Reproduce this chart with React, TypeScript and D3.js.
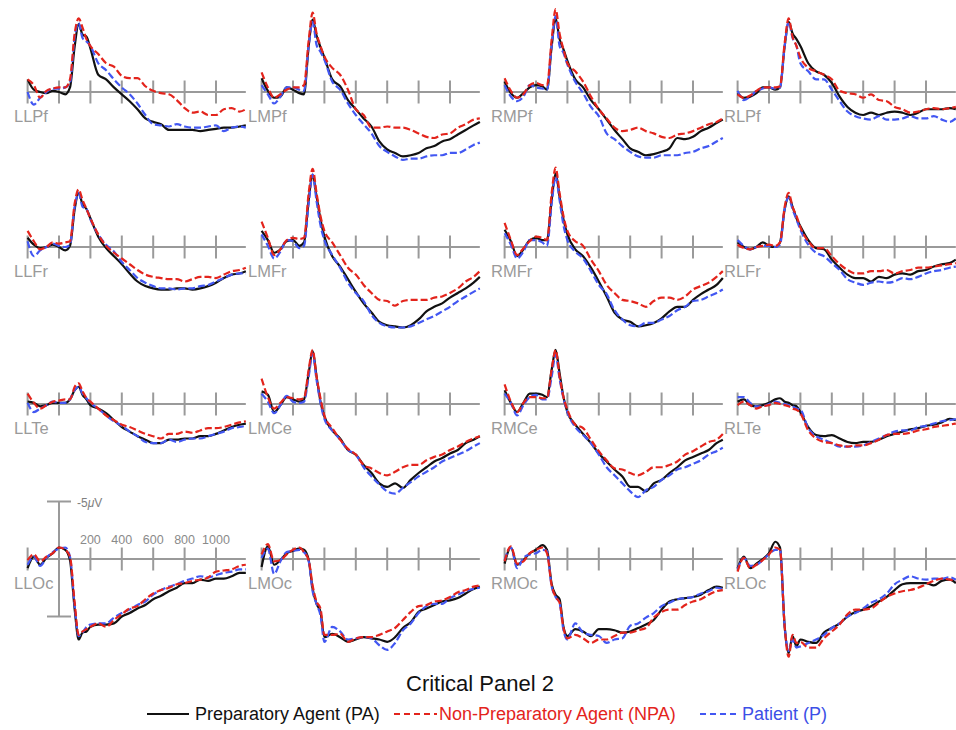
import * as d3 from 'd3';

// sample times (ms) shared by every waveform
const TIMES = [-200, -160, -120, -80, -40, 0, 40, 70, 100, 125, 150, 175, 200, 250, 300, 350, 400, 450, 500, 550, 600, 650, 700, 750, 800, 850, 900, 950, 1000, 1050, 1100, 1150, 1190];
const X_TICKS = [-200, 0, 200, 400, 600, 800, 1000];
const X_TICK_LABELS = [200, 400, 600, 800, 1000];
const EPOCH = [-200, 1190];

// amplitudes in microvolts, negative plotted up
const LLPf_PA = [-1.1, -0.2, 0.0, 0.1, -0.1, 0.0, 0.2, -0.4, -4.0, -5.9, -5.0, -4.8, -3.8, -1.5, -1.1, -0.4, 0.2, 0.8, 1.5, 2.3, 2.6, 2.8, 3.3, 3.3, 3.3, 3.3, 3.4, 3.3, 3.2, 3.1, 3.1, 3.0, 2.9];
const LLPf_NPA = [-1.1, -0.6, 0.5, -0.1, -0.3, -0.4, -0.4, -1.1, -5.1, -6.4, -5.6, -4.6, -4.0, -3.3, -2.5, -2.2, -1.4, -1.2, -1.2, -0.5, -0.1, 0.1, 0.2, 0.7, 1.4, 1.8, 1.7, 2.0, 2.0, 1.5, 1.4, 1.7, 1.5];
const LLPf_P = [0.0, 1.1, 0.5, 0.0, -0.3, -0.3, -0.4, -0.8, -4.8, -6.0, -4.7, -4.4, -4.0, -2.5, -1.9, -1.1, -0.4, 0.2, 1.0, 2.0, 2.8, 2.9, 3.0, 2.8, 3.0, 3.1, 3.1, 3.0, 2.9, 3.4, 3.1, 3.0, 3.1];

const LMPf_PA = [-1.2, -0.1, 0.5, 0.4, -0.4, -0.2, 0.1, 0.2, -4.0, -6.3, -4.9, -3.9, -3.0, -1.1, -0.5, 0.7, 1.5, 2.3, 3.0, 4.3, 5.0, 5.3, 5.6, 5.5, 5.3, 4.9, 4.7, 4.3, 4.1, 3.7, 3.3, 2.9, 2.6];
const LMPf_NPA = [-1.7, -0.4, 0.5, 0.2, -0.2, -0.4, -0.4, -0.6, -4.5, -6.9, -5.1, -4.0, -3.1, -2.1, -1.5, -0.2, 1.5, 2.0, 3.1, 3.1, 3.0, 3.1, 3.1, 3.3, 3.6, 3.9, 4.0, 3.7, 3.6, 3.1, 2.8, 2.4, 2.3];
const LMPf_P = [-0.6, 0.2, 1.0, 0.4, -0.4, -0.4, -0.2, -0.1, -4.0, -6.1, -4.1, -3.5, -2.8, -0.9, -0.2, 1.0, 2.0, 2.8, 3.6, 4.7, 5.2, 5.6, 5.9, 5.8, 5.8, 5.6, 5.5, 5.5, 5.3, 5.3, 5.0, 4.6, 4.4];

const RMPf_PA = [-0.9, 0.1, 0.5, 0.1, -0.4, -0.6, -0.5, -0.2, -4.0, -6.4, -4.6, -3.7, -2.7, -1.1, -0.4, 0.7, 1.5, 2.4, 3.3, 4.1, 4.9, 5.2, 5.5, 5.4, 5.2, 4.9, 4.0, 4.1, 3.9, 3.4, 3.1, 2.7, 2.4];
const RMPf_NPA = [-1.2, -0.1, 0.5, 0.2, -0.6, -0.8, -0.6, -0.6, -4.6, -7.2, -5.1, -3.7, -2.5, -1.8, -0.9, 0.4, 1.5, 2.3, 3.1, 3.4, 3.3, 3.1, 3.4, 3.6, 3.9, 4.0, 3.7, 3.6, 3.4, 3.1, 2.8, 2.6, 2.3];
const RMPf_P = [-0.6, 0.4, 0.8, 0.4, -0.6, -0.4, -0.3, -0.2, -4.0, -6.6, -4.0, -3.4, -2.4, -0.9, 0.1, 1.3, 2.1, 3.6, 4.1, 4.7, 5.2, 5.6, 5.7, 5.7, 5.5, 5.5, 5.5, 5.3, 5.2, 4.9, 4.7, 4.3, 4.0];

const RLPf_PA = [0.1, 0.5, 0.4, 0.1, -0.4, -0.4, -0.2, -0.4, -4.0, -6.1, -5.1, -4.6, -4.0, -2.5, -1.8, -1.5, -0.8, 0.4, 1.3, 1.8, 2.0, 1.8, 2.0, 1.8, 1.7, 1.8, 2.0, 1.8, 1.5, 1.5, 1.5, 1.4, 1.5];
const RLPf_NPA = [0.2, 0.5, 0.3, -0.1, -0.4, -0.4, -0.4, -0.5, -4.3, -6.4, -4.8, -4.0, -3.0, -2.1, -1.8, -1.5, -1.1, -0.1, 0.1, 0.2, 0.5, 0.2, 0.7, 0.8, 1.3, 1.5, 1.8, 1.7, 1.5, 1.4, 1.5, 1.4, 1.3];
const RLPf_P = [-0.1, 0.7, 0.4, -0.1, -0.3, -0.4, -0.3, -0.4, -4.0, -6.1, -4.7, -4.0, -2.5, -1.8, -1.1, -1.1, -0.2, 0.8, 1.7, 2.1, 2.3, 2.4, 2.1, 2.4, 2.4, 2.3, 2.1, 2.3, 2.3, 2.1, 2.4, 2.6, 2.3];

const LLFr_PA = [-0.8, -0.2, 0.1, 0.0, -0.2, 0.0, 0.3, -0.1, -3.3, -4.7, -3.7, -3.3, -2.5, -0.9, 0.1, 0.8, 1.5, 2.3, 3.0, 3.4, 3.6, 3.7, 3.7, 3.6, 3.6, 3.7, 3.6, 3.4, 3.1, 2.7, 2.4, 2.3, 2.1];
const LLFr_NPA = [-1.4, -0.5, 0.2, 0.0, -0.4, -0.3, -0.4, -0.5, -3.8, -5.0, -4.1, -3.3, -2.5, -1.1, -0.1, 0.5, 1.0, 1.5, 2.0, 2.4, 2.6, 2.7, 2.8, 2.8, 3.0, 2.8, 2.6, 2.6, 2.7, 2.4, 2.1, 2.0, 1.8];
const LLFr_P = [-0.5, 0.8, 0.3, 0.0, -0.3, -0.1, 0.0, -0.2, -3.5, -4.7, -3.5, -3.3, -2.4, -1.1, -0.2, 0.4, 1.3, 2.0, 2.7, 3.1, 3.4, 3.6, 3.6, 3.7, 3.6, 3.6, 3.4, 3.3, 3.0, 2.7, 2.4, 2.3, 2.3];

const LMFr_PA = [-1.4, -0.6, 0.5, 0.2, -0.5, -0.6, -0.1, -0.4, -4.1, -6.3, -4.4, -2.4, -0.9, 0.8, 1.7, 2.8, 3.9, 4.9, 5.7, 6.5, 6.8, 6.9, 7.0, 6.8, 6.3, 5.6, 5.2, 4.9, 4.4, 4.0, 3.6, 3.1, 2.6];
const LMFr_NPA = [-2.2, -0.8, 0.7, 0.2, -0.6, -0.8, -0.7, -0.8, -4.7, -6.8, -4.7, -2.7, -1.4, -0.4, 0.7, 1.8, 2.4, 3.3, 4.0, 4.6, 4.7, 5.1, 4.7, 4.6, 4.6, 4.6, 4.4, 4.3, 4.0, 3.6, 3.0, 2.6, 2.1];
const LMFr_P = [-1.1, -0.1, 1.0, 0.4, -0.6, -0.5, 0.1, -0.1, -3.8, -6.3, -4.0, -1.9, -0.6, 0.7, 1.8, 3.1, 4.0, 4.7, 5.9, 6.6, 6.9, 7.0, 7.0, 6.9, 6.6, 6.3, 6.0, 5.6, 5.2, 4.7, 4.3, 3.9, 3.6];

const RMFr_PA = [-1.5, -0.5, 0.8, 0.2, -0.6, -0.8, -0.6, -0.6, -4.1, -6.4, -4.4, -2.4, -1.1, 0.2, 0.8, 1.8, 3.0, 4.3, 5.7, 6.3, 6.5, 6.9, 6.8, 6.6, 6.2, 5.6, 5.2, 5.2, 4.6, 4.1, 3.7, 3.3, 2.7];
const RMFr_NPA = [-2.1, -0.6, 0.7, 0.1, -0.5, -0.9, -0.8, -0.6, -4.7, -6.9, -4.7, -2.7, -1.4, -0.5, -0.1, 1.1, 2.1, 3.3, 4.0, 4.6, 4.7, 4.9, 5.2, 4.7, 4.4, 4.4, 4.6, 4.3, 3.7, 3.4, 3.1, 2.6, 2.1];
const RMFr_P = [-1.2, -0.2, 1.0, 0.4, -0.6, -0.6, -0.4, -0.1, -3.8, -6.1, -4.1, -1.9, -0.6, 0.4, 1.0, 2.1, 3.3, 4.1, 5.5, 6.3, 6.8, 6.9, 6.6, 6.6, 6.3, 6.0, 5.5, 5.2, 4.7, 4.6, 4.3, 4.0, 3.7];

const RLFr_PA = [-0.4, 0.0, 0.2, 0.0, -0.4, -0.1, 0.0, -0.4, -3.3, -4.4, -3.5, -2.5, -1.8, -0.6, 0.1, 0.2, 1.1, 1.8, 2.4, 2.7, 2.7, 3.0, 2.6, 2.7, 2.4, 2.3, 2.4, 2.1, 2.0, 1.7, 1.5, 1.4, 1.1];
const RLFr_NPA = [-0.2, 0.1, 0.2, 0.0, -0.1, -0.2, -0.1, -0.4, -3.5, -4.7, -3.5, -2.7, -1.7, -0.5, 0.1, 0.1, 0.8, 1.5, 2.0, 2.3, 2.3, 2.1, 2.1, 2.0, 2.3, 2.1, 2.0, 1.8, 1.8, 1.7, 1.6, 1.5, 1.4];
const RLFr_P = [-0.6, -0.1, 0.2, 0.0, -0.1, -0.1, 0.0, -0.2, -3.3, -4.3, -3.3, -2.4, -1.5, -0.2, 0.5, 0.8, 1.4, 2.0, 2.8, 3.1, 3.3, 3.1, 3.0, 3.1, 3.0, 2.7, 2.8, 2.6, 2.3, 2.1, 2.0, 1.8, 1.7];

const LLTe_PA = [-0.2, -0.1, 0.2, 0.1, -0.1, -0.1, -0.1, -0.4, -1.2, -1.5, -0.8, -0.4, 0.1, 0.4, 0.8, 1.4, 2.0, 2.4, 2.8, 3.1, 3.4, 3.4, 3.1, 3.1, 3.0, 3.0, 2.8, 2.8, 2.6, 2.3, 2.0, 1.8, 1.7];
const LLTe_NPA = [-0.9, -0.1, 0.4, 0.1, -0.2, -0.3, -0.4, -0.4, -1.5, -1.8, -1.1, -0.5, -0.2, 0.4, 1.0, 1.4, 1.8, 2.0, 2.3, 2.6, 2.8, 3.0, 2.6, 2.6, 2.4, 2.5, 2.3, 2.1, 2.1, 2.0, 1.8, 1.6, 1.5];
const LLTe_P = [-0.1, 0.7, 0.4, 0.1, -0.2, -0.1, -0.1, -0.4, -1.2, -1.5, -0.9, -0.5, -0.1, 0.4, 1.0, 1.5, 1.9, 2.4, 2.8, 3.3, 3.4, 3.4, 3.1, 3.3, 3.1, 3.0, 3.0, 2.8, 2.6, 2.4, 2.1, 2.0, 1.9];

const LMCe_PA = [-1.1, -0.8, 0.7, 0.1, -0.6, -0.4, -0.2, -0.4, -2.7, -4.6, -2.4, -0.2, 1.1, 2.3, 3.0, 4.0, 4.4, 5.3, 6.0, 6.9, 7.2, 6.9, 7.3, 6.6, 6.0, 5.5, 5.0, 4.7, 4.3, 4.0, 3.4, 3.1, 2.8];
const LMCe_NPA = [-2.2, -0.6, 0.4, -0.1, -0.6, -0.5, -0.4, -0.5, -3.0, -4.7, -2.4, -0.5, 1.0, 2.1, 3.1, 3.9, 4.4, 5.3, 5.6, 6.0, 6.2, 5.9, 5.5, 5.3, 5.3, 4.9, 4.6, 4.4, 4.0, 3.7, 3.3, 3.0, 2.8];
const LMCe_P = [-0.9, -0.2, 0.8, 0.1, -0.7, -0.2, -0.1, -0.2, -2.4, -4.4, -2.1, -0.1, 1.3, 2.3, 3.1, 4.0, 4.4, 5.5, 6.3, 7.0, 7.6, 7.8, 7.3, 6.8, 6.3, 5.9, 5.5, 5.0, 4.7, 4.4, 4.1, 3.7, 3.4];

const RMCe_PA = [-1.2, -0.1, 0.7, -0.1, -0.9, -0.9, -0.8, -0.6, -3.0, -4.7, -2.7, -0.6, 0.7, 1.8, 2.6, 3.4, 4.3, 5.0, 5.7, 6.3, 7.2, 7.2, 7.6, 6.9, 6.6, 6.0, 5.5, 4.9, 4.6, 4.3, 4.0, 3.4, 3.1];
const RMCe_NPA = [-1.7, -0.2, 0.7, -0.1, -0.6, -0.6, -0.5, -0.5, -3.0, -4.7, -2.4, -0.6, 0.5, 1.8, 2.1, 3.1, 4.1, 4.9, 5.6, 5.7, 6.0, 6.2, 5.9, 5.5, 5.5, 5.3, 5.0, 4.4, 4.1, 3.7, 3.3, 3.1, 2.6];
const RMCe_P = [-0.9, -0.1, 1.0, 0.1, -0.6, -0.8, -0.4, -0.4, -2.4, -4.3, -2.2, -0.5, 0.7, 2.0, 2.7, 3.4, 4.4, 5.5, 6.2, 6.9, 7.6, 8.1, 7.5, 7.2, 6.6, 6.2, 5.7, 5.5, 5.2, 4.9, 4.4, 4.1, 3.8];

const RLTe_PA = [-0.2, -0.4, 0.1, 0.2, 0.1, -0.1, -0.4, -0.5, -0.2, -0.1, 0.1, 0.2, 0.7, 2.0, 2.7, 2.8, 2.7, 3.0, 3.3, 3.4, 3.3, 3.3, 3.1, 2.8, 2.6, 2.4, 2.2, 2.1, 1.9, 1.8, 1.6, 1.3, 1.4];
const RLTe_NPA = [0.1, -0.2, 0.1, 0.4, 0.2, 0.1, -0.1, 0.0, 0.1, 0.2, 0.4, 0.5, 0.8, 2.3, 3.0, 3.3, 3.4, 3.6, 3.7, 3.6, 3.6, 3.4, 3.1, 2.7, 2.6, 2.6, 2.5, 2.3, 2.2, 2.0, 1.9, 1.8, 1.7];
const RLTe_P = [-0.6, -0.6, -0.1, 0.2, 0.2, 0.0, -0.2, -0.1, 0.0, 0.1, 0.2, 0.4, 0.5, 2.1, 2.8, 3.1, 3.4, 3.7, 3.7, 3.7, 3.6, 3.3, 3.0, 2.7, 2.4, 2.3, 2.3, 2.0, 1.9, 1.7, 1.5, 1.4, 1.3];

const LLOc_PA = [0.8, -0.2, 0.5, -0.1, -0.5, -1.0, -0.8, 0.1, 4.4, 7.0, 6.4, 6.3, 5.9, 5.7, 5.7, 5.6, 5.0, 4.7, 4.3, 4.0, 3.5, 3.2, 2.8, 2.5, 2.1, 2.1, 1.8, 1.9, 1.7, 1.7, 1.5, 1.2, 1.2];
const LLOc_NPA = [0.1, -0.4, 0.2, -0.2, -0.5, -1.0, -0.8, -0.2, 3.8, 6.6, 6.3, 6.1, 5.9, 5.6, 5.9, 5.3, 4.8, 4.3, 4.1, 3.5, 3.0, 2.7, 2.5, 2.2, 2.1, 1.9, 1.8, 1.6, 1.1, 1.0, 0.9, 0.6, 0.5];
const LLOc_P = [0.5, -0.2, 0.6, -0.1, -0.6, -0.9, -1.0, -0.2, 4.1, 6.7, 6.4, 5.9, 5.7, 5.6, 5.6, 5.1, 4.7, 4.4, 4.0, 3.7, 3.1, 2.7, 2.4, 2.2, 1.9, 1.7, 1.5, 1.6, 1.4, 1.2, 1.1, 0.9, 0.9];

const LMOc_PA = [0.7, -1.1, 0.5, 0.1, -0.5, -0.7, -0.9, -0.8, 0.1, 2.6, 3.9, 4.6, 6.8, 6.5, 6.8, 7.2, 7.0, 6.8, 6.9, 7.0, 7.2, 6.8, 6.0, 5.5, 4.6, 4.3, 4.0, 3.7, 3.6, 3.4, 3.0, 2.6, 2.4];
const LMOc_NPA = [-0.4, -1.3, 0.2, 0.1, -0.4, -0.8, -1.0, -0.6, 0.1, 2.3, 3.7, 4.3, 6.6, 6.6, 6.5, 7.2, 6.9, 6.8, 6.8, 6.6, 6.3, 6.0, 5.3, 4.6, 4.1, 4.0, 3.7, 3.6, 3.3, 2.9, 2.7, 2.4, 2.3];
const LMOc_P = [-0.1, -0.9, 1.3, 0.2, -0.6, -0.7, -0.8, -0.6, 0.2, 2.8, 3.9, 4.9, 7.2, 5.9, 6.3, 7.0, 6.9, 6.8, 6.9, 7.5, 7.9, 7.3, 6.2, 5.6, 4.7, 4.1, 3.9, 3.9, 3.4, 3.1, 2.8, 2.6, 2.5];

const RMOc_PA = [0.4, -1.0, 0.5, 0.1, -0.5, -0.8, -1.2, -0.8, 2.2, 3.1, 3.5, 5.9, 6.7, 6.1, 6.3, 6.7, 6.1, 6.1, 6.2, 6.4, 6.3, 6.0, 5.7, 5.3, 4.4, 3.7, 3.5, 3.4, 3.3, 3.1, 2.7, 2.4, 2.5];
const RMOc_NPA = [0.2, -1.1, 0.4, 0.2, -0.5, -0.8, -1.0, -0.5, 2.3, 3.3, 3.8, 6.0, 6.9, 6.6, 6.9, 7.3, 7.0, 7.0, 6.7, 6.4, 6.4, 6.2, 6.0, 5.1, 4.6, 4.4, 4.4, 4.0, 3.7, 3.5, 3.1, 2.8, 2.7];
const RMOc_P = [0.1, -1.0, 0.8, -0.1, -0.4, -0.5, -0.8, -0.7, 2.4, 3.3, 3.8, 6.2, 7.0, 5.6, 6.4, 6.6, 6.7, 7.3, 7.0, 6.9, 5.8, 5.6, 5.1, 4.7, 4.1, 3.8, 3.5, 3.4, 3.3, 3.0, 2.8, 2.5, 2.6];

const RLOc_PA = [0.8, -0.2, 0.8, 0.4, 0.0, -0.5, -1.5, -1.0, 5.9, 8.2, 6.7, 7.6, 7.0, 7.2, 7.3, 6.4, 6.0, 5.6, 5.0, 4.6, 4.4, 4.1, 3.7, 3.3, 2.7, 2.2, 2.1, 2.1, 2.1, 2.3, 1.9, 1.8, 2.1];
const RLOc_NPA = [1.1, -0.1, 0.8, 0.5, 0.1, -0.4, -1.0, -0.8, 5.9, 8.5, 6.6, 7.3, 7.2, 7.7, 7.7, 6.9, 6.3, 5.7, 4.8, 4.4, 4.4, 4.3, 3.8, 3.3, 3.0, 2.8, 2.7, 2.5, 2.2, 1.9, 1.7, 1.8, 1.9];
const RLOc_P = [0.9, -0.1, 0.6, 0.5, 0.1, -0.4, -0.8, -0.8, 5.9, 8.0, 7.0, 7.7, 7.6, 7.3, 7.0, 6.6, 6.0, 5.6, 5.0, 4.7, 4.3, 3.8, 3.5, 3.0, 2.2, 1.8, 1.5, 1.7, 1.8, 1.7, 1.7, 1.6, 1.8];

const PANELS = [
  { name: 'LLPf', pa: LLPf_PA, npa: LLPf_NPA, p: LLPf_P },
  { name: 'LMPf', pa: LMPf_PA, npa: LMPf_NPA, p: LMPf_P },
  { name: 'RMPf', pa: RMPf_PA, npa: RMPf_NPA, p: RMPf_P },
  { name: 'RLPf', pa: RLPf_PA, npa: RLPf_NPA, p: RLPf_P },
  { name: 'LLFr', pa: LLFr_PA, npa: LLFr_NPA, p: LLFr_P },
  { name: 'LMFr', pa: LMFr_PA, npa: LMFr_NPA, p: LMFr_P },
  { name: 'RMFr', pa: RMFr_PA, npa: RMFr_NPA, p: RMFr_P },
  { name: 'RLFr', pa: RLFr_PA, npa: RLFr_NPA, p: RLFr_P },
  { name: 'LLTe', pa: LLTe_PA, npa: LLTe_NPA, p: LLTe_P },
  { name: 'LMCe', pa: LMCe_PA, npa: LMCe_NPA, p: LMCe_P },
  { name: 'RMCe', pa: RMCe_PA, npa: RMCe_NPA, p: RMCe_P },
  { name: 'RLTe', pa: RLTe_PA, npa: RLTe_NPA, p: RLTe_P },
  { name: 'LLOc', pa: LLOc_PA, npa: LLOc_NPA, p: LLOc_P },
  { name: 'LMOc', pa: LMOc_PA, npa: LMOc_NPA, p: LMOc_P },
  { name: 'RMOc', pa: RMOc_PA, npa: RMOc_NPA, p: RMOc_P },
  { name: 'RLOc', pa: RLOc_PA, npa: RLOc_NPA, p: RLOc_P },
];

const TITLE = 'Critical Panel 2';
const CONDITIONS = [
  { key: 'pa', label: 'Preparatory Agent (PA)', color: '#111111', text: '#111111', dash: null },
  { key: 'p', label: 'Patient (P)', color: '#4257f2', text: '#3c50e6', dash: '7,3' },
  { key: 'npa', label: 'Non-Preparatory Agent (NPA)', color: '#e3241c', text: '#e3241c', dash: '7,3' },
] as const;
const LEGEND_ORDER = ['pa', 'npa', 'p'];

// layout
const WIDTH = 956;
const HEIGHT = 730;
const COL_ZERO = [59, 293, 536, 769];
const ROW_AXIS = [92, 247, 404, 559];
const PX_PER_MS = 31.4 / 200;
const PX_PER_UV = 11.5;
const AXIS_COLOR = '#9a9a9a';
const FONT = '"Liberation Sans", Arial, Helvetica, sans-serif';

function Panel({ index }: { index: number }) {
  const panel = PANELS[index];
  const col = index % 4;
  const row = Math.floor(index / 4);
  const x0 = COL_ZERO[col];
  const a = ROW_AXIS[row];

  const x = d3.scaleLinear().domain([0, 1000]).range([x0, x0 + 1000 * PX_PER_MS]);
  const y = d3.scaleLinear().domain([0, 5]).range([a, a + 5 * PX_PER_UV]);

  const line = d3.line<number>()
    .x((_, j) => x(TIMES[j]))
    .y(v => y(v))
    .curve(d3.curveMonotoneX);

  // the bottom-left panel carries the scale bar
  const withScale = index === 12;

  return (
    <g>
      <line x1={x(EPOCH[0])} x2={x(EPOCH[1])} y1={y(0)} y2={y(0)} stroke={AXIS_COLOR} strokeWidth={2} />
      {X_TICKS.map(t => (
        <line key={t} x1={x(t)} x2={x(t)} y1={y(-1)} y2={y(1)} stroke={AXIS_COLOR} strokeWidth={2} />
      ))}
      {withScale && (
        <g>
          <line x1={x(0)} x2={x(0)} y1={y(-5)} y2={y(5)} stroke={AXIS_COLOR} strokeWidth={2} />
          <line x1={x(0) - 12} x2={x(0) + 12} y1={y(-5)} y2={y(-5)} stroke={AXIS_COLOR} strokeWidth={2} />
          <line x1={x(0) - 12} x2={x(0) + 12} y1={y(5)} y2={y(5)} stroke={AXIS_COLOR} strokeWidth={2} />
          <text x={x(0) + 18} y={y(-5) + 5} fontSize={12} fill="#808080" fontFamily={FONT}>
            -5<tspan fontStyle="italic">μ</tspan>V
          </text>
          {X_TICK_LABELS.map(t => (
            <text key={t} x={x(t)} y={y(0) - 15} fontSize={12.5} fill="#8a8a8a" textAnchor="middle" fontFamily={FONT}>
              {t}
            </text>
          ))}
        </g>
      )}
      {CONDITIONS.map(c => (
        <path
          key={c.key}
          d={line(panel[c.key]) ?? ''}
          fill="none"
          stroke={c.color}
          strokeWidth={2.2}
          strokeDasharray={c.dash ?? undefined}
          strokeLinejoin="round"
        />
      ))}
      <text x={x0 - 45} y={a + 30} fontSize={16.5} fill="#9a9a9a" fontFamily={FONT}>
        {panel.name}
      </text>
    </g>
  );
}

export default function App() {
  const legendX = { pa: [147, 189, 195], npa: [394, 437, 439], p: [700, 740, 742] } as Record<string, number[]>;

  return (
    <svg
      width={WIDTH}
      height={HEIGHT}
      style={{ position: 'absolute', left: 0, top: 0, background: '#fff' }}
    >
      <rect width={WIDTH} height={HEIGHT} fill="#fff" />
      {PANELS.map((_, i) => (
        <Panel key={i} index={i} />
      ))}
      <text x={480} y={691} fontSize={22} textAnchor="middle" fill="#111" fontFamily={FONT}>
        {TITLE}
      </text>
      {LEGEND_ORDER.map(k => {
        const c = CONDITIONS.find(d => d.key === k)!;
        const [lx1, lx2, tx] = legendX[k];
        return (
          <g key={k}>
            <line x1={lx1} x2={lx2} y1={714} y2={714} stroke={c.color} strokeWidth={2.2}
              strokeDasharray={c.dash ? '6,4' : undefined} />
            <text x={tx} y={720} fontSize={18} fill={c.text} fontFamily={FONT}>
              {c.label}
            </text>
          </g>
        );
      })}
    </svg>
  );
}
